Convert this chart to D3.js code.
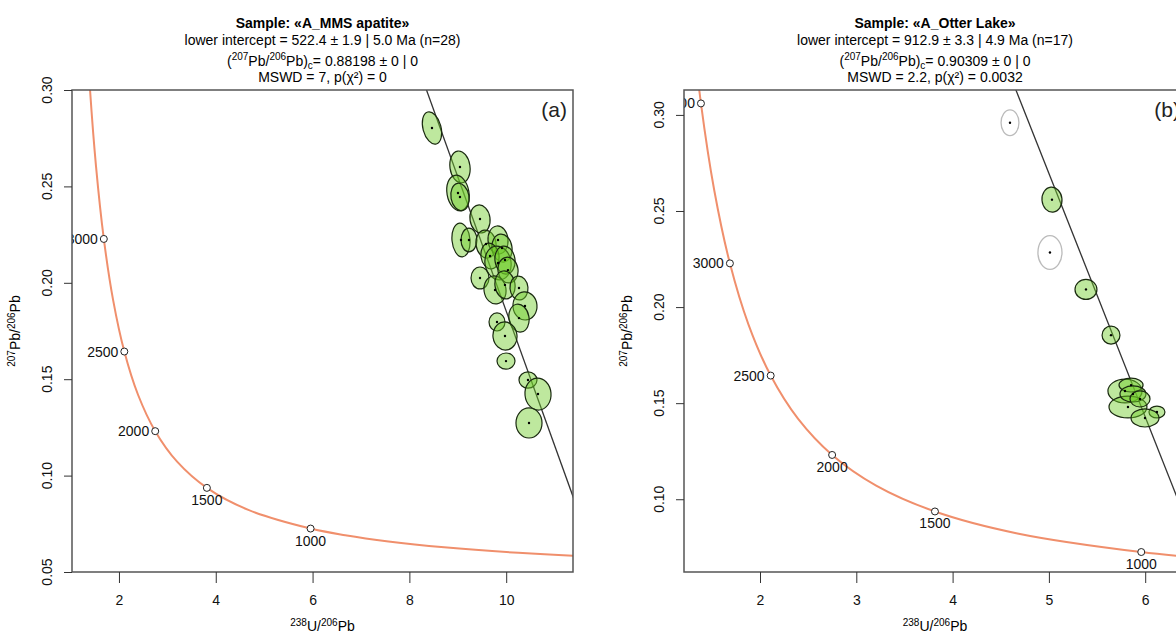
<!DOCTYPE html>
<html><head><meta charset="utf-8">
<script src="https://cdn.jsdelivr.net/npm/d3@7/dist/d3.min.js"></script>
<style>body{margin:0;background:#fff}svg{font-family:"Liberation Sans Narrow","Liberation Sans",Arial,sans-serif}</style>
</head><body><svg id="c" width="1176" height="635"></svg>
<script>
// Concordia (Tera-Wasserburg) points: [age Ma, 238U/206Pb, 207Pb/206Pb]
const concordia = [[400,15.62,0.05472],[500,12.40,0.05724],[600,10.252,0.05993],[700,8.718,0.06279],[800,7.568,0.06583],[900,6.674,0.06907],[1000,5.959,0.07253],[1250,4.673,0.08222],[1500,3.8166,0.09364],[1750,3.2062,0.10711],[2000,2.7491,0.12305],[2250,2.3941,0.14193],[2500,2.1109,0.16435],[2750,1.8797,0.19101],[3000,1.6874,0.22275],[3250,1.5253,0.26065],[3500,1.3868,0.30598],[3750,1.2672,0.3602]];
const agesA = [1000,1500,2000,2500,3000];
const labelPosA = ["below","below","left","left","left"];
const agesB = [1000,1500,2000,2500,3000,3500];
const labelPosB = ["below","below","below","left","left","left"];
const discA = [[0,0.88198],[11.83,0.0578]];
const discB = [[0,0.90309],[6.58,0.0694]];
// ellipses: x, y, half-width x, half-height y, tilt deg
const ellA = [
[8.467,0.2803,0.186,0.0086,-15],[9.045,0.2601,0.207,0.0083,-8],[9.004,0.2466,0.227,0.0093,-10],[9.045,0.2445,0.186,0.0072,-10],
[9.459,0.2331,0.207,0.0073,-8],[9.066,0.2222,0.186,0.0088,-5],[9.231,0.2222,0.165,0.0062,0],[9.583,0.2201,0.207,0.0073,-8],
[9.831,0.2222,0.207,0.0073,-5],[9.913,0.2180,0.207,0.0073,-8],[9.665,0.2139,0.186,0.0067,-8],[9.831,0.2103,0.269,0.0088,-10],
[9.975,0.2118,0.207,0.0073,-8],[10.037,0.2066,0.207,0.0067,-8],[9.459,0.2025,0.186,0.0057,0],[9.769,0.1963,0.227,0.0073,-8],
[9.975,0.1989,0.207,0.0073,-8],[10.264,0.1973,0.186,0.0062,-5],[10.388,0.1880,0.248,0.0073,-5],[10.264,0.1817,0.207,0.0073,-10],
[9.810,0.1797,0.165,0.0047,0],[9.975,0.1724,0.248,0.0073,-8],[9.996,0.1594,0.186,0.0042,0],[10.45,0.1496,0.186,0.0042,0],
[10.657,0.1423,0.269,0.0083,-5],[10.471,0.1273,0.269,0.0078,0]];
const ellB = [
[5.032,0.2559,0.104,0.0065,-5],[5.385,0.2092,0.114,0.0052,0],[5.645,0.1854,0.093,0.0047,0],
[5.790,0.1563,0.177,0.0062,0],[5.821,0.1480,0.197,0.0057,0],[5.853,0.1594,0.125,0.0036,0],[5.873,0.1548,0.135,0.0042,0],
[5.946,0.1522,0.104,0.0042,0],[6.122,0.1454,0.083,0.0031,0],[5.998,0.1423,0.145,0.0047,0]];
const rejB = [[4.596,0.2959,0.093,0.0067,0],[5.011,0.2284,0.125,0.0088,0]];
const xTicksA=[2,4,6,8,10], yTicksA=[0.05,0.10,0.15,0.20,0.25,0.30];
const xTicksB=[2,3,4,5,6], yTicksB=[0.10,0.15,0.20,0.25,0.30];
const titlesA=["Sample: «A_MMS apatite»","lower intercept = 522.4 ± 1.9 | 5.0 Ma (n=28)","0.88198 ± 0 | 0","MSWD = 7, p(χ²) = 0"];
const titlesB=["Sample: «A_Otter Lake»","lower intercept = 912.9 ± 3.3 | 4.9 Ma (n=17)","0.90309 ± 0 | 0","MSWD = 2.2, p(χ²) = 0.0032"];

const svg=d3.select("#c");
function panel(id,L,R,T,B,xd,yd,xt,yt,disc,ages,lpos,ell,rej,titles,tag){
  const x=d3.scaleLinear().domain(xd).range([L,R]);
  const y=d3.scaleLinear().domain(yd).range([B,T]);
  const g=svg.append("g");
  g.append("clipPath").attr("id",id).append("rect").attr("x",L).attr("y",T).attr("width",R-L).attr("height",B-T);
  const p=g.append("g").attr("clip-path",`url(#${id})`);
  p.append("path").datum(concordia).attr("fill","none").attr("stroke","#f08f6c").attr("stroke-width",2)
   .attr("d",d3.line().curve(d3.curveCatmullRom).x(d=>x(d[1])).y(d=>y(d[2])));
  p.append("line").attr("x1",x(disc[0][0])).attr("y1",y(disc[0][1])).attr("x2",x(disc[1][0])).attr("y2",y(disc[1][1]))
   .attr("stroke","#333").attr("stroke-width",1.3);
  const el=(sel,d)=>sel.attr("transform",`translate(${x(d[0])},${y(d[1])}) rotate(${d[4]})`)
     .attr("rx",Math.abs(x(d[0]+d[2])-x(d[0]))).attr("ry",Math.abs(y(d[1]+d[3])-y(d[1])));
  rej.forEach(d=>el(p.append("ellipse"),d).attr("fill","none").attr("stroke","#bbb").attr("stroke-width",1.3));
  ell.forEach(d=>el(p.append("ellipse"),d).attr("fill","rgba(110,205,40,0.45)").attr("stroke","#1a2a10").attr("stroke-width",1.2));
  ell.concat(rej).forEach(d=>p.append("circle").attr("cx",x(d[0])).attr("cy",y(d[1])).attr("r",1.2).attr("fill","#000"));
  ages.forEach((a,i)=>{
    const c=concordia.find(q=>q[0]===a);
    const cx=x(c[1]), cy=y(c[2]);
    p.append("circle").attr("cx",cx).attr("cy",cy).attr("r",3.5).attr("fill","#fff").attr("stroke","#222");
    const t=p.append("text").text(a).attr("font-size",14).attr("fill","#111");
    if(lpos[i]==="below") t.attr("x",cx).attr("y",cy+17).attr("text-anchor","middle");
    else t.attr("x",cx-6).attr("y",cy+5).attr("text-anchor","end");
  });
  p.append("text").text(tag).attr("x",R-6).attr("y",T+27).attr("text-anchor","end").attr("font-size",21).attr("fill","#222");
  g.append("rect").attr("x",L).attr("y",T).attr("width",R-L).attr("height",B-T).attr("fill","none").attr("stroke","#555").attr("stroke-width",1.5);
  const xa=g.append("g").attr("transform",`translate(0,${B})`).call(d3.axisBottom(x).tickValues(xt).tickSize(11).tickPadding(12).tickFormat(d3.format("d")));
  const ya=g.append("g").attr("transform",`translate(${L},0)`).call(d3.axisLeft(y).tickValues(yt).tickSize(8).tickFormat(""));
  [xa,ya].forEach(a=>{a.select(".domain").remove();a.selectAll("line").attr("stroke","#333");a.selectAll("text").attr("font-size",14).attr("fill","#111").attr("font-family",null);});
  ya.selectAll("text").remove();
  yt.forEach(v=>g.append("text").text(d3.format(".2f")(v)).attr("font-size",14).attr("fill","#111")
     .attr("text-anchor","middle").attr("transform",`translate(${L-20},${y(v)}) rotate(-90)`));
  const mx=(L+R)/2;
  const xl=g.append("text").attr("x",mx).attr("y",631).attr("text-anchor","middle").attr("font-size",14);
  xl.append("tspan").text("238").attr("font-size",10).attr("dy",-5);
  xl.append("tspan").text("U/").attr("dy",5);
  xl.append("tspan").text("206").attr("font-size",10).attr("dy",-5);
  xl.append("tspan").text("Pb").attr("dy",5);
  const yl=g.append("text").attr("transform",`translate(${L-52},${(T+B)/2}) rotate(-90)`).attr("text-anchor","middle").attr("font-size",14);
  yl.append("tspan").text("207").attr("font-size",10).attr("dy",-5);
  yl.append("tspan").text("Pb/").attr("dy",5);
  yl.append("tspan").text("206").attr("font-size",10).attr("dy",-5);
  yl.append("tspan").text("Pb").attr("dy",5);
  g.append("text").text(titles[0]).attr("x",mx).attr("y",28).attr("text-anchor","middle").attr("font-size",14).attr("font-weight","bold");
  g.append("text").text(titles[1]).attr("x",mx).attr("y",45).attr("text-anchor","middle").attr("font-size",14);
  const t3=g.append("text").attr("x",mx).attr("y",66).attr("text-anchor","middle").attr("font-size",14);
  t3.append("tspan").text("(");
  t3.append("tspan").text("207").attr("font-size",10).attr("dy",-6);
  t3.append("tspan").text("Pb/").attr("dy",6);
  t3.append("tspan").text("206").attr("font-size",10).attr("dy",-6);
  t3.append("tspan").text("Pb)").attr("dy",6);
  t3.append("tspan").text("c").attr("font-size",10).attr("dy",3);
  t3.append("tspan").text("= "+titles[2]).attr("dy",-3);
  g.append("text").text(titles[3]).attr("x",mx).attr("y",82).attr("text-anchor","middle").attr("font-size",14);
}
panel("ca",72,573,90,572,[1.03,11.38],[0.05,0.30],xTicksA,yTicksA,discA,agesA,labelPosA,ellA,[],titlesA,"(a)");
panel("cb",684,1186,90,572,[2-76/96.3,2+426/96.3],[0.10-73/1928,0.30+25/1928],xTicksB,yTicksB,discB,agesB,labelPosB,ellB,rejB,titlesB,"(b)");
</script></body></html>
